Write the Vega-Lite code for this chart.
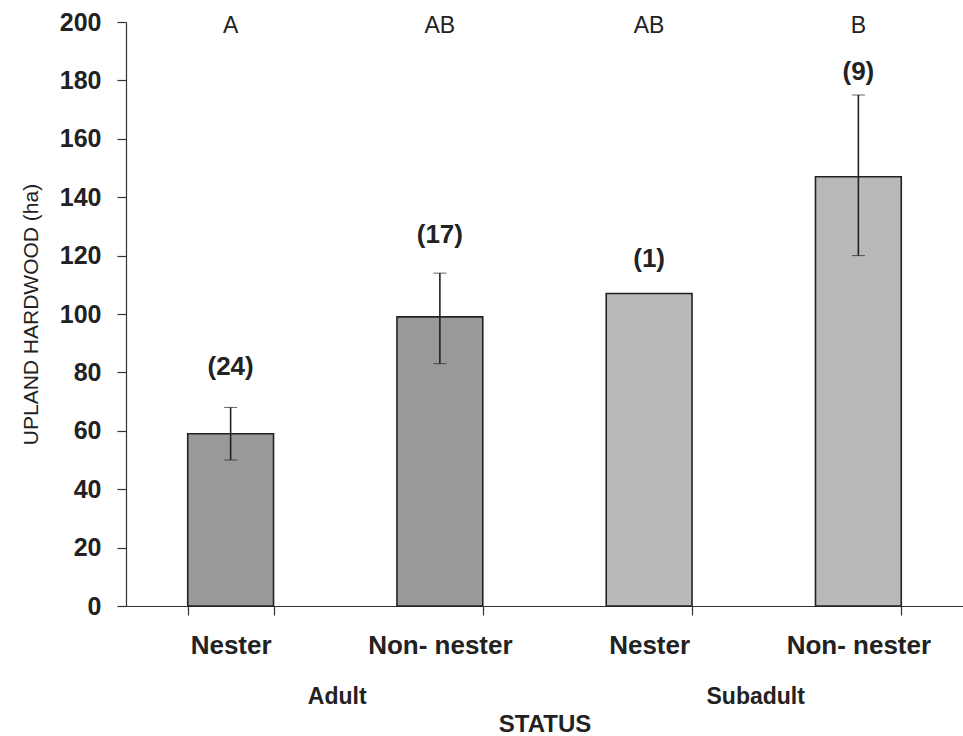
{
  "$schema": "https://vega.github.io/schema/vega-lite/v6.json",
  "width": 837,
  "height": 584,
  "autosize": {"type": "none"},
  "padding": {"left": 126, "top": 22, "right": 0, "bottom": 130},
  "background": "white",
  "config": {
    "view": {"stroke": null},
    "font": "Liberation Sans",
    "axis": {"grid": false, "domainColor": "#333", "tickColor": "#333", "labelColor": "#222", "titleColor": "#222", "labelFont": "Liberation Sans", "titleFont": "Liberation Sans", "titleFontWeight": "normal", "domainWidth": 1.2, "tickWidth": 1.2}
  },
  "data": {
    "values": [
      {"status": "Adult|Nester", "mean": 59, "lo": 50, "hi": 68, "n": "(24)", "npos": 82, "letter": "A", "age": "Adult"},
      {"status": "Adult|Non- nester", "mean": 99, "lo": 83, "hi": 114, "n": "(17)", "npos": 127, "letter": "AB", "age": "Adult"},
      {"status": "Subadult|Nester", "mean": 107, "lo": null, "hi": null, "n": "(1)", "npos": 119, "letter": "AB", "age": "Subadult"},
      {"status": "Subadult|Non- nester", "mean": 147, "lo": 120, "hi": 175, "n": "(9)", "npos": 183, "letter": "B", "age": "Subadult"}
    ]
  },
  "encoding": {
    "x": {
      "field": "status", "type": "nominal", "sort": null,
      "scale": {"paddingInner": 0.59, "paddingOuter": 0.295},
      "axis": {
        "labelExpr": "split(datum.label, '|')[1]",
        "labelAngle": 0, "labelFontSize": 26, "labelFontWeight": "bold", "labelPadding": 17,
        "tickBand": "extent", "tickSize": 9,
        "title": "STATUS", "titleFontSize": 24, "titleFontWeight": "bold", "titleY": 125, "titleBaseline": "alphabetic"
      }
    }
  },
  "layer": [
    {
      "mark": {"type": "bar", "stroke": "#222", "strokeWidth": 1.6},
      "encoding": {
        "y": {"field": "mean", "type": "quantitative", "title": "UPLAND HARDWOOD (ha)", "scale": {"domain": [0, 200], "nice": false},
          "axis": {"values": [0, 20, 40, 60, 80, 100, 120, 140, 160, 180, 200], "tickSize": 9, "labelPadding": 16, "labelFontSize": 25, "labelFontWeight": "bold", "titleFontSize": 21, "titleAngle": -90, "titleX": -89, "titleY": 292, "titleAlign": "center", "titleBaseline": "alphabetic"}},
        "fill": {"field": "age", "type": "nominal", "scale": {"domain": ["Adult", "Subadult"], "range": ["#999999", "#b9b9b9"]}, "legend": null}
      }
    },
    {
      "transform": [{"filter": "datum.lo != null"}],
      "mark": {"type": "errorbar", "ticks": {"size": 13, "color": "#222", "strokeWidth": 1.6}, "rule": {"color": "#222", "strokeWidth": 1.6}},
      "encoding": {
        "y": {"field": "lo", "type": "quantitative", "title": "UPLAND HARDWOOD (ha)"},
        "y2": {"field": "hi"}
      }
    },
    {
      "mark": {"type": "text", "fontSize": 26, "fontWeight": "bold", "color": "#222", "baseline": "middle"},
      "encoding": {
        "y": {"field": "npos", "type": "quantitative", "title": "UPLAND HARDWOOD (ha)"},
        "text": {"field": "n"}
      }
    },
    {
      "mark": {"type": "text", "fontSize": 23, "color": "#222", "baseline": "middle"},
      "encoding": {
        "y": {"datum": 198.5},
        "text": {"field": "letter"}
      }
    },
    {
      "data": {"values": [{"status": "Adult|Non- nester", "group": "Adult"}, {"status": "Subadult|Non- nester", "group": "Subadult"}]},
      "mark": {"type": "text", "fontSize": 23, "fontWeight": "bold", "color": "#222", "baseline": "middle", "dy": 91, "dx": 2},
      "encoding": {
        "x": {"field": "status", "type": "nominal", "sort": null, "bandPosition": -0.72},
        "y": {"datum": 0},
        "text": {"field": "group"}
      }
    }
  ]
}
